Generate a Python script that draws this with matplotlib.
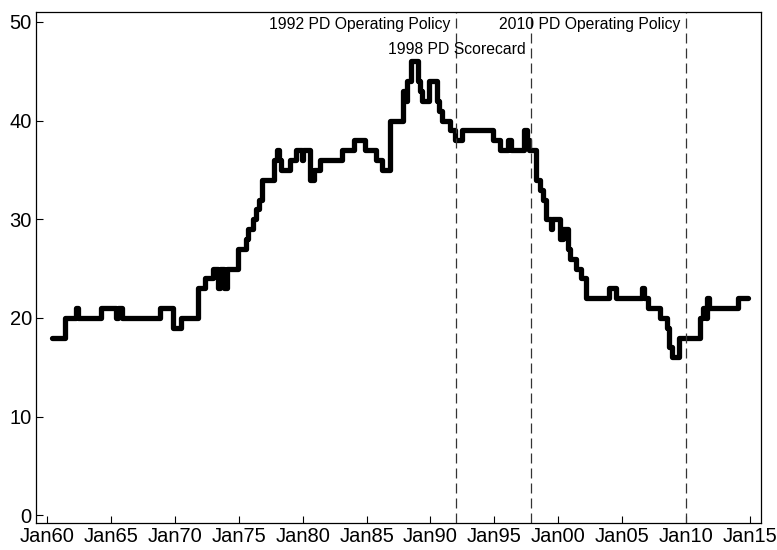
import matplotlib
matplotlib.use("Agg")
import matplotlib.pyplot as plt

# Step series: (decimal year at which a new level begins, level)
years = [1960.33, 1961.37, 1962.25, 1962.4, 1964.2, 1965.35, 1965.55, 1965.8,
         1968.8, 1969.85, 1970.45, 1971.8, 1972.35, 1973.0, 1973.35, 1973.55,
         1973.8, 1974.05, 1974.9, 1975.55, 1975.7, 1976.1, 1976.35, 1976.55,
         1976.8, 1977.75, 1977.95, 1978.15, 1978.3, 1979.0, 1979.5, 1979.9,
         1980.05, 1980.6, 1980.9, 1981.35, 1983.1, 1984.05, 1984.85, 1985.7,
         1986.2, 1986.85, 1987.85, 1988.05, 1988.2, 1988.5, 1989.0, 1989.15,
         1989.35, 1989.85, 1990.5, 1990.65, 1990.9, 1991.5, 1991.9, 1992.45,
         1994.9, 1995.45, 1996.1, 1996.3, 1997.35, 1997.55, 1997.75, 1998.3,
         1998.55, 1998.8, 1999.05, 1999.45, 1999.55, 2000.15, 2000.35, 2000.8,
         2000.95, 2001.4, 2001.8, 2002.2, 2004.0, 2004.5, 2006.55, 2006.7,
         2007.05, 2007.95, 2008.5, 2008.7, 2008.9, 2009.5, 2011.1, 2011.35,
         2011.55, 2011.65, 2011.8, 2014.1, 2014.85]
levels = [18, 20, 21, 20, 21, 20, 21, 20,
          21, 19, 20, 23, 24, 25, 23, 25,
          23, 25, 27, 28, 29, 30, 31, 32,
          34, 36, 37, 36, 35, 36, 37, 36,
          37, 34, 35, 36, 37, 38, 37, 36,
          35, 40, 43, 42, 44, 46, 44, 43,
          42, 44, 42, 41, 40, 39, 38, 39,
          38, 37, 38, 37, 39, 38, 37, 34,
          33, 32, 30, 29, 30, 28, 29, 27,
          26, 25, 24, 22, 23, 22, 23, 22,
          21, 20, 19, 17, 16, 18, 20, 21,
          20, 22, 21, 22, 22]

# Policy events
event_years = [1992.0, 1997.9, 2010.0]
event_labels = ["1992 PD Operating Policy", "1998 PD Scorecard",
                "2010 PD Operating Policy"]
event_label_y = [49.7, 47.2, 49.7]

tick_years = list(range(1960, 2016, 5))
tick_labels = ["Jan%02d" % (y % 100) for y in tick_years]
y_ticks = [0, 10, 20, 30, 40, 50]

plt.rcParams["font.family"] = ["Liberation Sans", "DejaVu Sans"]

fig = plt.figure(figsize=(7.77, 5.5), dpi=100)
ax = fig.add_axes([0.0463, 0.049, 0.9327, 0.929])

ax.plot(years, levels, drawstyle="steps-post", color="black",
        linewidth=3.8, solid_joinstyle="round", solid_capstyle="round")

for x, lab, ly in zip(event_years, event_labels, event_label_y):
    ax.axvline(x, color="#333333", linewidth=0.9, linestyle=(0, (8, 4)))
    ax.annotate(lab, xy=(x, ly), xytext=(-4, 0), textcoords="offset points",
                ha="right", va="center", fontsize=11.3)

ax.set_xlim(1959.1, 2015.87)
ax.set_ylim(-0.8, 51.0)
ax.set_xticks(tick_years)
ax.set_xticklabels(tick_labels)
ax.set_yticks(y_ticks)
ax.tick_params(direction="in", length=5, width=0.8, labelsize=14.5,
               top=False, right=False, pad=3)
for s in ax.spines.values():
    s.set_linewidth(0.9)

fig.savefig("out.png", dpi=100)
